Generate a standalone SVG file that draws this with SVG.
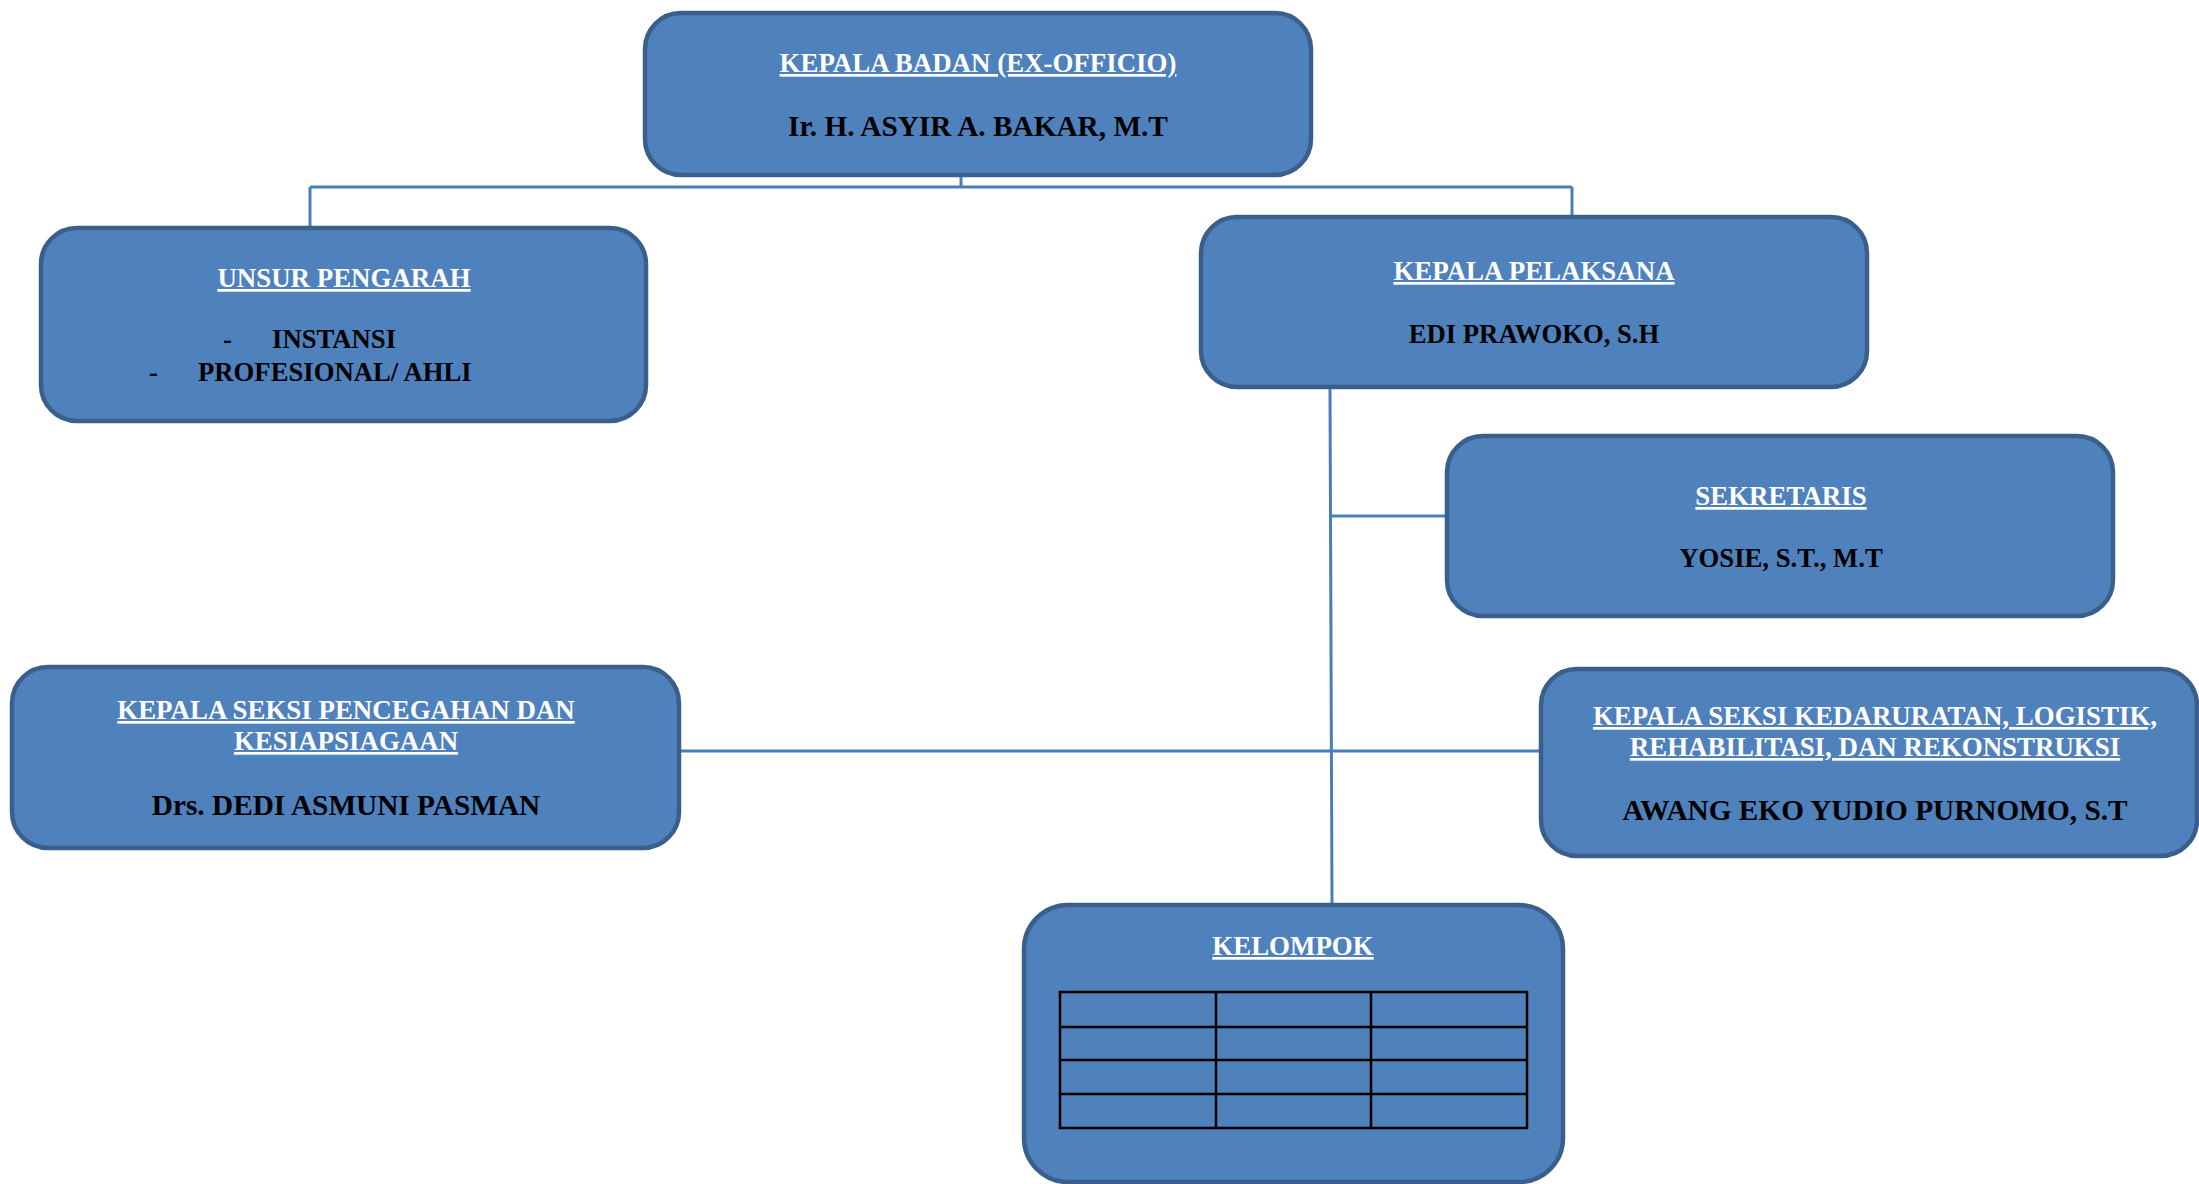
<svg xmlns="http://www.w3.org/2000/svg" width="2199" height="1184" viewBox="0 0 2199 1184">
<style>
.box{fill:#4F81BD;stroke:#3A5F8C;stroke-width:4.5}
.conn{stroke:#4A7EBB;stroke-width:3;fill:none}
text{font-family:"Liberation Serif","Times New Roman",serif;font-weight:bold;text-anchor:middle}
.t{fill:#FFFFFF;font-size:26.9px;text-decoration:underline}
.n{fill:#000000;font-size:26.7px}
.nb{fill:#000000;font-size:29.3px}
.l{fill:#000000;font-size:26.7px;text-anchor:start}
.tbl{fill:none;stroke:#000000;stroke-width:2.5}
</style>
<rect width="2199" height="1184" fill="#FFFFFF"/>
<g id="connectors">
<path class="conn" d="M961 177 V187 M310 187 H1572 M310 187 V226 M1572 187 V215"/>
<path class="conn" d="M1330 389 L1332 903"/>
<path class="conn" d="M1331 516 H1445"/>
<path class="conn" d="M681 751 H1539"/>
</g>
<g id="kepala-badan">
<rect class="box" x="645" y="13" width="666" height="162" rx="36"/>
<text class="t" x="978" y="72">KEPALA BADAN (EX-OFFICIO)</text>
<text class="nb" x="978" y="136">Ir. H. ASYIR A. BAKAR, M.T</text>
</g>
<g id="unsur-pengarah">
<rect class="box" x="41" y="228" width="605" height="193" rx="36"/>
<text class="t" x="344" y="287">UNSUR PENGARAH</text>
<text class="l" x="223" y="348">-</text>
<text class="l" x="272" y="348">INSTANSI</text>
<text class="l" x="149" y="381">-</text>
<text class="l" x="198" y="381">PROFESIONAL/ AHLI</text>
</g>
<g id="kepala-pelaksana">
<rect class="box" x="1201" y="217" width="666" height="170" rx="36"/>
<text class="t" x="1534" y="280">KEPALA PELAKSANA</text>
<text class="n" x="1534" y="343">EDI PRAWOKO, S.H</text>
</g>
<g id="sekretaris">
<rect class="box" x="1447" y="436" width="666" height="180" rx="36"/>
<text class="t" x="1781" y="505">SEKRETARIS</text>
<text class="n" x="1781" y="567">YOSIE, S.T., M.T</text>
</g>
<g id="seksi-pencegahan">
<rect class="box" x="12" y="667" width="667" height="181" rx="36"/>
<text class="t" x="346" y="719">KEPALA SEKSI PENCEGAHAN DAN</text>
<text class="t" x="346" y="750">KESIAPSIAGAAN</text>
<text class="nb" x="346" y="815">Drs. DEDI ASMUNI PASMAN</text>
</g>
<g id="seksi-kedaruratan">
<rect class="box" x="1541" y="669" width="656" height="187" rx="36"/>
<text class="t" x="1875" y="725">KEPALA SEKSI KEDARURATAN, LOGISTIK,</text>
<text class="t" x="1875" y="756">REHABILITASI, DAN REKONSTRUKSI</text>
<text class="nb" x="1875" y="820">AWANG EKO YUDIO PURNOMO, S.T</text>
</g>
<g id="kelompok">
<rect class="box" x="1024" y="905" width="539" height="277" rx="44"/>
<text class="t" x="1293" y="955">KELOMPOK</text>
<rect class="tbl" x="1060" y="992" width="467" height="136"/>
<path class="tbl" d="M1216 992 V1128 M1371 992 V1128 M1060 1027 H1527 M1060 1060 H1527 M1060 1094 H1527"/>
</g>
</svg>
